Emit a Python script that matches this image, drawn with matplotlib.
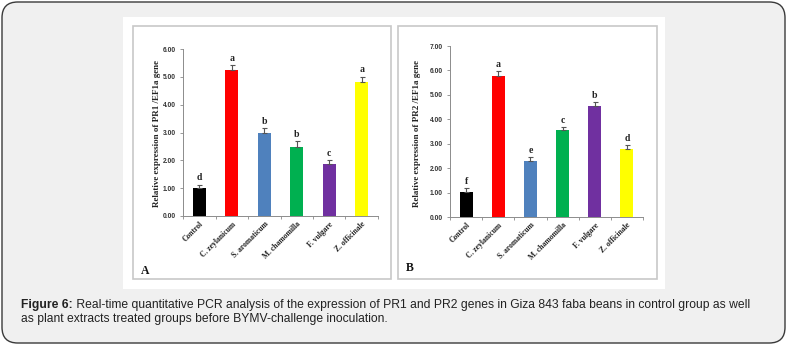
import matplotlib
matplotlib.use("Agg")
import matplotlib.pyplot as plt
from matplotlib.patches import FancyBboxPatch, Rectangle
import numpy as np

# ---------------- data ----------------
categories = ["Control", "C. zeylanicum", "S. aromaticum", "M. chamomilla", "F. vulgare", "Z. officinale"]
pr1_values = [1.00, 5.23, 2.99, 2.47, 1.88, 4.80]
pr1_errors = [0.13, 0.19, 0.18, 0.23, 0.13, 0.21]
pr1_letters = ["d", "a", "b", "b", "c", "a"]
pr2_values = [1.04, 5.77, 2.28, 3.56, 4.56, 2.79]
pr2_errors = [0.13, 0.20, 0.17, 0.12, 0.16, 0.15]
pr2_letters = ["f", "a", "e", "c", "b", "d"]
bar_colors = ["#000000", "#ff0000", "#4f81bd", "#00b050", "#7030a0", "#ffff00"]
pr1_ticks = [0, 1, 2, 3, 4, 5, 6]
pr2_ticks = [0, 1, 2, 3, 4, 5, 6, 7]
caption_bold = "Figure 6:"
caption_line1 = " Real-time quantitative PCR analysis of the expression of PR1 and PR2 genes in Giza 843 faba beans in control group as well"
caption_line2 = "as plant extracts treated groups before BYMV-challenge inoculation."

W, H = 787, 346
fig = plt.figure(figsize=(W / 100, H / 100), dpi=100)
fig.patch.set_facecolor("white")

def fx(x):
    return x / W

def fy(y):
    return 1 - y / H

def frect(x0, y0, x1, y1):
    return [fx(x0), fy(y1), (x1 - x0) / W, (y1 - y0) / H]

# outer rounded box
outer = FancyBboxPatch((fx(2), fy(343)), (783) / W, (341) / H,
                       boxstyle="round,pad=0,rounding_size=0.02",
                       transform=fig.transFigure, facecolor="#f0f0f0",
                       edgecolor="#3a3a3a", linewidth=1.0, mutation_aspect=W / H,
                       zorder=-10)
fig.patches.append(outer)
# white image area
fig.patches.append(Rectangle((fx(123), fy(289)), (665 - 123) / W, (289 - 17) / H,
                             transform=fig.transFigure, facecolor="white", edgecolor="none",
                             zorder=-9))
# panel frames
for (x0, x1) in [(133, 391), (398, 657)]:
    fig.patches.append(Rectangle((fx(x0), fy(279)), (x1 - x0) / W, (279 - 26) / H,
                                 transform=fig.transFigure, facecolor="white",
                                 edgecolor="#c8c8c8", linewidth=1.2, zorder=-8))

serif = "Liberation Serif"
sans = "Liberation Sans"

def draw_panel(rect, values, errors, letters, ticks, ylabel, label_x, panel_letter, letter_pos):
    ax = fig.add_axes(rect)
    ax.set_zorder(5)
    x = np.arange(len(categories))
    ax.bar(x, values, width=0.4, color=bar_colors, edgecolor="none", zorder=2)
    ax.errorbar(x, values, yerr=[np.zeros(len(errors)), errors], fmt="none",
                ecolor="#555555", elinewidth=0.8, capsize=1.8, capthick=0.8, zorder=3)
    for xi, v, e, l in zip(x, values, errors, letters):
        ax.text(xi, v + e + 0.08, l, ha="center", va="bottom", fontsize=7,
                fontweight="bold", family=serif, color="#222222")
    ax.set_xlim(-0.5, len(categories) - 0.5)
    ax.set_ylim(0, ticks[-1])
    ax.set_yticks(ticks)
    ax.set_yticklabels([f"{t:.2f}" for t in ticks], fontsize=4.8, fontweight="bold",
                       family=sans, color="#333333")
    ax.set_xticks(x)
    ax.set_xticklabels(categories, rotation=45, ha="right", rotation_mode="anchor",
                       fontsize=5.5, fontweight="bold", family=serif, color="#222222")
    ax.tick_params(axis="x", length=0, pad=3)
    ax.set_xticks(np.arange(len(categories) + 1) - 0.5, minor=True)
    ax.tick_params(axis="x", which="minor", length=2, width=0.6, color="#888888")
    ax.tick_params(axis="y", length=2, width=0.6, color="#888888", pad=3)
    for s in ["top", "right"]:
        ax.spines[s].set_visible(False)
    for s in ["left", "bottom"]:
        ax.spines[s].set_color("#8c8c8c")
        ax.spines[s].set_linewidth(0.7)
    ax.patch.set_alpha(0)
    fig.text(fx(label_x), fy(133), ylabel, rotation=90, ha="center", va="center",
             fontsize=6.5, fontweight="bold", family=serif, color="#222222")
    fig.text(fx(letter_pos[0]), fy(letter_pos[1]), panel_letter, ha="left", va="center",
             fontsize=8.5, fontweight="bold", family=serif, color="#111111")
    return ax

draw_panel(frect(183, 49, 378, 216), pr1_values, pr1_errors, pr1_letters, pr1_ticks,
           "Relative expression of PR1 /EF1a gene", 157, "A", (141, 271))
draw_panel(frect(450, 46, 643, 217), pr2_values, pr2_errors, pr2_letters, pr2_ticks,
           "Relative expression of PR2 /EF1a gene", 417, "B", (406, 268))

# caption
fs = 8.75
t = fig.text(fx(21), fy(305), caption_bold, ha="left", va="center", fontsize=fs,
             fontweight="bold", family=sans, color="#222222")
fig.canvas.draw()
bb = t.get_window_extent()
fig.text(bb.x1 / W, fy(305), caption_line1, ha="left", va="center", fontsize=fs,
         family=sans, color="#222222")
fig.text(fx(21), fy(319), caption_line2, ha="left", va="center", fontsize=fs,
         family=sans, color="#222222")

fig.savefig("out.png", dpi=100)
